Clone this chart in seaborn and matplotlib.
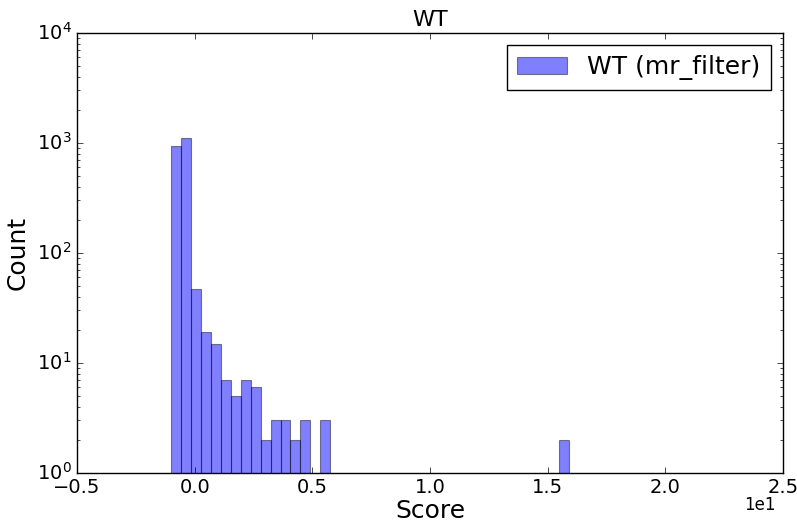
import numpy as np
import pandas as pd
import matplotlib
matplotlib.use("Agg")
import matplotlib.pyplot as plt
import seaborn as sns

# Histogram data (40 bins between min and max score)
score_min = -1.0
score_max = 15.9
n_bins = 40
counts = [940, 1100, 47, 19, 15, 7, 5, 7, 6, 2, 3, 3, 2, 3, 0, 3,
          0, 0, 0, 0, 0, 0, 0, 0, 0, 0, 0, 0, 0, 0, 0, 0, 0, 0, 0, 0, 0, 0, 0, 2]
series_label = "WT (mr_filter)"
title = "WT"
x_label = "Score"
y_label = "Count"

edges = np.linspace(score_min, score_max, n_bins + 1)
centers = (edges[:-1] + edges[1:]) / 2
df = pd.DataFrame({"score": centers, "count": counts})

plt.style.use("classic")
fig = plt.figure(figsize=(7.97, 5.22), dpi=100, facecolor="white")
ax = fig.add_axes([0.0966, 0.094, 0.886, 0.843])

sns.histplot(data=df, x="score", weights="count", bins=n_bins,
             binrange=(score_min, score_max), ax=ax,
             color="blue", alpha=0.5, edgecolor="black", linewidth=0.8,
             label=series_label)
for p in ax.patches:
    p.set_alpha(None)
    p.set_edgecolor((0, 0, 0, 0.45))
    p.set_facecolor((0, 0, 1, 0.5))

ax.set_yscale("log")
ax.set_ylim(1, 1e4)
ax.set_xlim(-5, 25)
ax.ticklabel_format(axis="x", style="sci", scilimits=(0, 0))
ax.xaxis._update_offset_text_position = lambda *args, **kw: None
off = ax.xaxis.get_offset_text()
off.set_fontsize(12)
off.set_transform(ax.transAxes)
off.set_position((0.989, -0.052))
off.set_va("top")
off.set_ha("right")
ax.tick_params(labelsize=14)
ax.set_title(title, fontsize=16)
ax.set_xlabel(x_label, fontsize=18, labelpad=1)
ax.set_ylabel(y_label, fontsize=18)
ax.legend(loc="upper right", fontsize=18)

fig.savefig("out.png", dpi=100, facecolor="white")
